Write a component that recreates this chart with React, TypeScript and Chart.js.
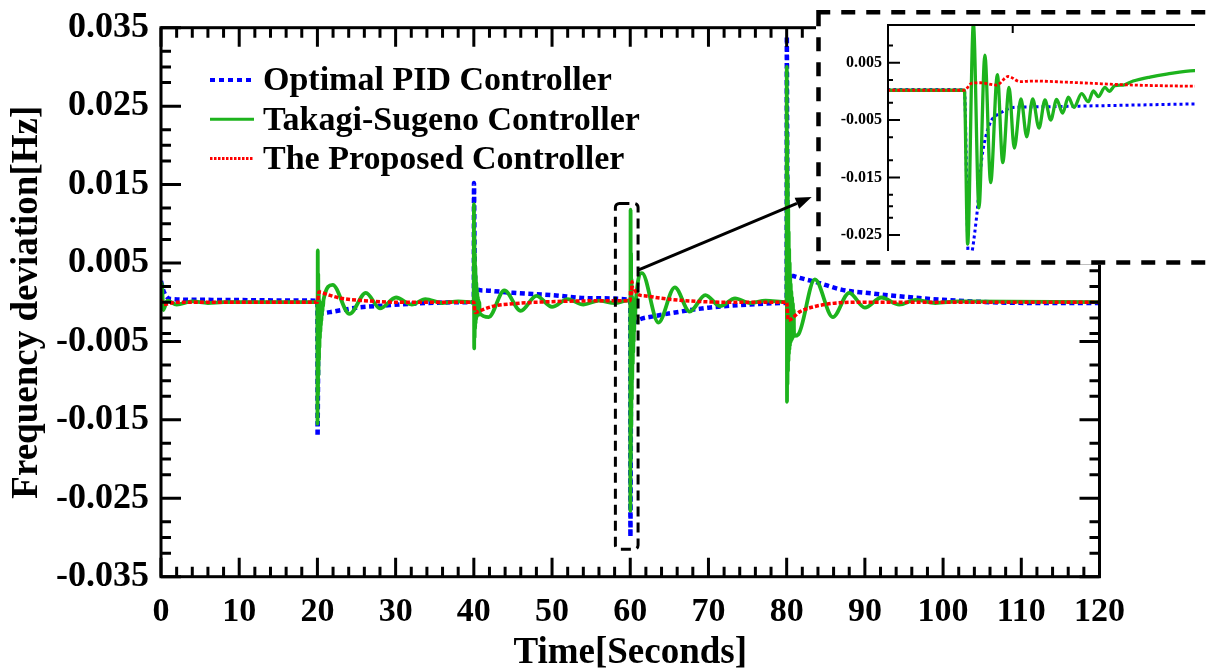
import React, { useEffect, useRef } from "react";
import { Chart, registerables } from "chart.js";

Chart.register(...registerables);

const FONT_FAMILY = '"Liberation Serif", "Times New Roman", Times, serif';

const seriesNames = ["Optimal PID Controller", "Takagi-Sugeno Controller", "The Proposed Controller"];
const seriesColors = ["#0000ff", "#1db31d", "#ff0000"];

const xTickLabels = [0, 10, 20, 30, 40, 50, 60, 70, 80, 90, 100, 110, 120];
const yTickLabels = ["-0.035", "-0.025", "-0.015", "-0.005", "0.005", "0.015", "0.025", "0.035"];
const yMinorTicks = [-0.032, -0.03, -0.028, -0.022, -0.02, -0.018, -0.012, -0.01, -0.008, -0.004, -0.002, 0,
  0.002, 0.004, 0.008, 0.01, 0.012, 0.018, 0.02, 0.022, 0.028, 0.03, 0.032];

const insetXRange = [59.6, 61.2];
const insetYRange = [-0.0278, 0.01156];
const insetYTickLabels = ["-0.025", "-0.015", "-0.005", "0.005"];
const insetYMinorTicks = [0.008, 0.002, -0.002, -0.008, -0.012, -0.018, -0.02, -0.022];
const insetTopTicks = [60.25];

const zoomBoxT = [58.1, 61.0];
const zoomBoxV = [-0.0315, 0.0126];
const arrowFrom = [61.0, 0.0041];
const arrowTo = [83.2, 0.0134];

// Optimal PID controller
const pidTime = [0, 0.3, 1.2, 5, 19.98, 20.0, 20.02, 20.06, 20.1, 20.15, 20.25, 20.75, 22, 25, 29, 34, 39.98,
  40.0, 40.02, 40.06, 40.1, 40.15, 40.25, 41.2, 45, 50, 55, 59.998,
  60.02, 60.062, 60.088, 60.114, 60.14, 60.184, 60.253, 60.356, 60.705, 61.195, 63, 66.4, 70, 75, 79.98,
  80.0, 80.02, 80.06, 80.1, 80.15, 80.3, 81, 84, 87, 91, 95, 100, 106, 112, 120];
const pidValues = [0.0027, 0.0015, 0.0004, 0.0003, 0.0002, 0.0002, -0.0171, -0.0125, -0.006, -0.003, -0.0017, -0.0014, -0.0012, -0.0007, -0.0004, -0.0001, 0.0,
  0.0, 0.0152, 0.011, 0.006, 0.003, 0.0018, 0.0015, 0.0012, 0.0009, 0.0005, 0.0003,
  -0.0299, -0.0218, -0.0119, -0.0073, -0.005, -0.0038, -0.0028, -0.0027, -0.0025, -0.0022, -0.0018, -0.0012, -0.0007, -0.0003, -0.0001,
  -0.0001, 0.0339, 0.022, 0.011, 0.0055, 0.0038, 0.0033, 0.0025, 0.0016, 0.0011, 0.0007, 0.0003, 0.0, -0.0001, -0.0001];

// Takagi-Sugeno controller
const tsTime = [0, 0.1, 0.3, 0.8, 2.0, 4.0, 6.0, 8.0, 19.98,
  20.015, 20.045, 20.075, 20.105, 20.135, 20.17, 20.2, 20.23, 20.26, 20.29, 20.32, 20.355, 20.39, 20.42, 20.45, 20.48, 20.51, 20.54, 20.57, 20.61, 20.65, 20.68, 20.72, 20.78,
  21.95, 24.1, 26.2, 28.0, 30.05, 32.06, 33.8, 36.0, 38.0, 39.98,
  40.015, 40.045, 40.075, 40.105, 40.135, 40.17, 40.2, 40.23, 40.26, 40.29, 40.32, 40.355, 40.39, 40.42, 40.45, 40.48, 40.52, 40.56, 40.6, 40.65, 40.7, 40.75,
  41.9, 43.9, 46.0, 48.0, 50.0, 52.0, 54.0, 56.0, 58.0, 59.6, 59.998,
  60.015, 60.045, 60.074, 60.105, 60.135, 60.17, 60.198, 60.231, 60.258, 60.293, 60.323, 60.354, 60.387, 60.418, 60.448, 60.479, 60.51, 60.54, 60.569, 60.609, 60.644, 60.67, 60.696, 60.731, 60.753, 60.783, 60.826, 60.878, 60.965, 61.052, 61.196,
  61.5, 63.6, 65.7, 67.6, 69.6, 71.5, 73.4, 75.3, 77.3, 79.98,
  80.015, 80.045, 80.075, 80.105, 80.135, 80.17, 80.2, 80.23, 80.26, 80.29, 80.32, 80.355, 80.39, 80.42, 80.45, 80.48, 80.52, 80.56, 80.6, 80.65, 80.7, 80.75, 80.8, 80.85, 80.9, 80.95,
  81.5, 83.6, 85.9, 88.0, 90.0, 92.1, 94.4, 96.5, 99.0, 102.0, 120.0];
const tsValues = [0.0, 0.0024, -0.001, 0.0002, -0.0003, 0.0001, -0.0001, 0.0, 0.0,
  -0.0155, 0.0066, -0.0118, 0.0036, -0.0093, 0.0016, -0.0074, 0.0003, -0.0058, -0.0008, -0.0046, -0.001, -0.0038, -0.001, -0.003, -0.0008, -0.0024, -0.0005, -0.0017, -0.0002, -0.0011, 0.0, -0.0006, 0.0003,
  0.0022, -0.0015, 0.0012, -0.0008, 0.0006, -0.0003, 0.0004, -0.0001, 0.0001, 0.0,
  0.0125, -0.0059, 0.0085, -0.0045, 0.0062, -0.0034, 0.0046, -0.0027, 0.0034, -0.0022, 0.0025, -0.0019, 0.0018, -0.0017, 0.0012, -0.0016, 0.0007, -0.0016, 0.0003, -0.0016, 0.0, -0.0014,
  -0.0019, 0.0015, -0.0011, 0.0008, -0.0006, 0.0004, -0.0003, 0.0002, -0.0001, 0.0002, 0.0002,
  -0.0266, 0.0118, -0.0203, 0.0063, -0.0159, 0.0029, -0.0124, 0.0007, -0.0099, -0.0013, -0.0079, -0.0013, -0.0064, -0.0015, -0.005, -0.0014, -0.0038, -0.001, -0.0028, -0.0004, -0.0018, 0.0001, -0.0009, 0.0007, 0.0, 0.001, 0.0011, 0.0018, 0.0025, 0.003, 0.0036,
  0.0037, -0.0026, 0.0019, -0.0012, 0.0009, -0.0005, 0.0005, -0.0001, 0.0002, 0.0,
  0.03, -0.0127, 0.0215, -0.0105, 0.016, -0.0088, 0.012, -0.0075, 0.009, -0.0066, 0.0068, -0.006, 0.005, -0.0056, 0.0036, -0.0052, 0.0024, -0.005, 0.0014, -0.0048, 0.0006, -0.0046, -0.0002, -0.0044, -0.001, -0.0043,
  -0.0041, 0.0029, -0.0019, 0.0012, -0.0007, 0.0006, -0.0003, 0.0003, -0.0001, 0.0001, 0.0];

// The proposed controller
const propTime = [0, 0.3, 2, 19.98, 20.0, 20.2, 21.5, 23, 26, 30, 39.98,
  40.0, 40.15, 41, 42.5, 45, 48, 59.6, 59.998,
  60.036, 60.079, 60.166, 60.227, 60.288, 60.357, 60.531, 60.878, 61.196, 62, 64, 67, 72, 79.98,
  80.0, 80.2, 81.7, 83.4, 86.4, 90, 120];
const propValues = [0.0003, -0.0003, 0.0, 0.0, 0.0, 0.0013, 0.0009, 0.0005, 0.0002, 0.0, 0.0,
  0.0, -0.0013, -0.001, -0.0005, -0.0002, 0.0, 0.0002, 0.0002,
  0.0014, 0.0015, 0.0011, 0.0026, 0.0017, 0.0018, 0.0016, 0.0011, 0.0009, 0.0008, 0.0005, 0.0002, 0.0, 0.0,
  0.0, -0.0023, -0.0012, -0.0006, -0.0001, 0.0, 0.0];

const toXY = (t: number[], v: number[]) => t.map((x, i) => ({ x, y: v[i] }));

function makeDatasets(widths: number[], dashes: number[][]) {
  return [
    {
      label: seriesNames[2], data: toXY(propTime, propValues), borderColor: seriesColors[2],
      borderWidth: widths[2], borderDash: dashes[2], order: 1,
    },
    {
      label: seriesNames[1], data: toXY(tsTime, tsValues), borderColor: seriesColors[1],
      borderWidth: widths[1], borderDash: dashes[1], order: 2,
    },
    {
      label: seriesNames[0], data: toXY(pidTime, pidValues), borderColor: seriesColors[0],
      borderWidth: widths[0], borderDash: dashes[0], order: 3,
    },
  ].map((d) => ({
    ...d, fill: false, pointRadius: 0, cubicInterpolationMode: "monotone" as const,
    borderJoinStyle: "round" as const, borderCapStyle: "butt" as const,
  }));
}

const mainPlugin = {
  id: "mainDecor",
  afterDraw(chart: any) {
    const { ctx, chartArea: a } = chart;
    const xs = chart.scales.x;
    const ys = chart.scales.y;
    ctx.save();
    ctx.strokeStyle = "#000";
    ctx.lineCap = "butt";
    ctx.lineWidth = 3;
    // ticks on all four sides (pointing inward)
    ctx.beginPath();
    for (let v = 0; v <= 120; v += 2) {
      const p = xs.getPixelForValue(v);
      const len = xTickLabels.includes(v) ? 19 : 10;
      ctx.moveTo(p, a.bottom); ctx.lineTo(p, a.bottom - len);
      ctx.moveTo(p, a.top); ctx.lineTo(p, a.top + len);
    }
    const yMaj = yTickLabels.map((s) => parseFloat(s));
    yMaj.forEach((v) => {
      const p = ys.getPixelForValue(v);
      ctx.moveTo(a.left, p); ctx.lineTo(a.left + 20, p);
      ctx.moveTo(a.right, p); ctx.lineTo(a.right - 20, p);
    });
    yMinorTicks.forEach((v) => {
      const p = ys.getPixelForValue(v);
      ctx.moveTo(a.left, p); ctx.lineTo(a.left + 10, p);
      ctx.moveTo(a.right, p); ctx.lineTo(a.right - 10, p);
    });
    ctx.stroke();
    ctx.strokeRect(a.left, a.top, a.right - a.left, a.bottom - a.top);

    // zoom box around t = 60
    const bx0 = xs.getPixelForValue(zoomBoxT[0]);
    const bx1 = xs.getPixelForValue(zoomBoxT[1]);
    const by0 = ys.getPixelForValue(zoomBoxV[1]);
    const by1 = ys.getPixelForValue(zoomBoxV[0]);
    ctx.setLineDash([10, 6]);
    ctx.lineWidth = 3;
    ctx.beginPath();
    const r = 4;
    ctx.moveTo(bx0 + r, by0);
    ctx.lineTo(bx1 - r, by0);
    ctx.arcTo(bx1, by0, bx1, by0 + r, r);
    ctx.lineTo(bx1, by1 - r);
    ctx.arcTo(bx1, by1, bx1 - r, by1, r);
    ctx.lineTo(bx0 + r, by1);
    ctx.arcTo(bx0, by1, bx0, by1 - r, r);
    ctx.lineTo(bx0, by0 + r);
    ctx.arcTo(bx0, by0, bx0 + r, by0, r);
    ctx.stroke();
    ctx.setLineDash([]);

    // arrow
    const ax0 = xs.getPixelForValue(arrowFrom[0]);
    const ay0 = ys.getPixelForValue(arrowFrom[1]);
    const ax1 = xs.getPixelForValue(arrowTo[0]);
    const ay1 = ys.getPixelForValue(arrowTo[1]);
    const ang = Math.atan2(ay1 - ay0, ax1 - ax0);
    const hl = 16, hw = 6;
    const bxh = ax1 - hl * Math.cos(ang), byh = ay1 - hl * Math.sin(ang);
    ctx.lineWidth = 3;
    ctx.beginPath();
    ctx.moveTo(ax0, ay0);
    ctx.lineTo(bxh, byh);
    ctx.stroke();
    ctx.fillStyle = "#000";
    ctx.beginPath();
    ctx.moveTo(ax1, ay1);
    ctx.lineTo(bxh + hw * Math.sin(ang), byh - hw * Math.cos(ang));
    ctx.lineTo(bxh - hw * Math.sin(ang), byh + hw * Math.cos(ang));
    ctx.closePath();
    ctx.fill();

    // legend
    const legendStyles = [
      { w: 4, dash: [5, 4] },
      { w: 3, dash: [] },
      { w: 3, dash: [2.5, 1.5] },
    ];
    const rowY = [52.3, 91.5, 130.8];
    const baseOff = [10, 10.5, 10.5];
    ctx.font = `bold 34px ${FONT_FAMILY}`;
    ctx.textAlign = "left";
    ctx.textBaseline = "alphabetic";
    seriesNames.forEach((name, i) => {
      const y = a.top + rowY[i];
      ctx.strokeStyle = seriesColors[i];
      ctx.lineWidth = legendStyles[i].w;
      ctx.setLineDash(legendStyles[i].dash);
      ctx.beginPath();
      ctx.moveTo(a.left + 49, y);
      ctx.lineTo(a.left + 93, y);
      ctx.stroke();
      ctx.setLineDash([]);
      ctx.fillStyle = "#000";
      ctx.fillText(name, a.left + 102, y + baseOff[i]);
    });
    ctx.restore();
  },
};

const insetPlugin = {
  id: "insetDecor",
  beforeDraw(chart: any) {
    const { ctx, width } = chart;
    ctx.save();
    ctx.fillStyle = "#fff";
    ctx.fillRect(0, 0, width, 256.5);
    ctx.restore();
  },
  afterDraw(chart: any) {
    const { ctx, chartArea: a, width } = chart;
    const xs = chart.scales.x;
    const ys = chart.scales.y;
    ctx.save();
    ctx.strokeStyle = "#000";
    ctx.lineWidth = 2;
    ctx.beginPath();
    ctx.moveTo(a.left, a.bottom);
    ctx.lineTo(a.left, a.top);
    ctx.lineTo(a.right, a.top);
    insetYTickLabels.forEach((s) => {
      const p = ys.getPixelForValue(parseFloat(s));
      ctx.moveTo(a.left, p); ctx.lineTo(a.left + 12, p);
    });
    insetYMinorTicks.forEach((v) => {
      const p = ys.getPixelForValue(v);
      ctx.moveTo(a.left, p); ctx.lineTo(a.left + 5, p);
    });
    insetTopTicks.forEach((v) => {
      const p = xs.getPixelForValue(v);
      ctx.moveTo(p, a.top); ctx.lineTo(p, a.top + 8);
    });
    ctx.stroke();

    // dashed border
    const L = 2.5, T = 4.3, B = 254.5, R = width + 20;
    ctx.lineWidth = 4.5;
    ctx.setLineDash([14, 11]);
    ctx.beginPath();
    ctx.moveTo(L - 2.25, T); ctx.lineTo(R, T);
    ctx.moveTo(L, T); ctx.lineTo(L, B);
    ctx.moveTo(L - 2.25, B); ctx.lineTo(R, B);
    ctx.stroke();
    ctx.restore();
  },
};

function mainConfig(): any {
  return {
    type: "line",
    data: { datasets: makeDatasets([4.5, 3.8, 3.5], [[5, 3.5], [], [4, 2]]) },
    options: {
      responsive: false,
      animation: false,
      events: [],
      layout: { padding: { top: 27.7, right: 111.5, left: 0, bottom: 0 } },
      plugins: { legend: { display: false }, tooltip: { enabled: false } },
      scales: {
        x: {
          type: "linear", min: 0, max: 120,
          grid: { display: false, drawTicks: false }, border: { display: false },
          afterBuildTicks: (s: any) => { s.ticks = xTickLabels.map((v) => ({ value: v })); },
          afterFit: (s: any) => { s.height = 93.3; s.paddingLeft = 0; s.paddingRight = 0; },
          ticks: {
            color: "#000", padding: 15, maxRotation: 0, autoSkip: false,
            font: { family: FONT_FAMILY, size: 34, weight: "bold" },
            callback: (v: any, i: number) => String(xTickLabels[i]),
          },
          title: {
            display: true, text: "Time[Seconds]", color: "#000",
            font: { family: FONT_FAMILY, size: 37, weight: "bold", lineHeight: 0.9 },
            padding: { top: 0, bottom: 0 },
          },
        },
        y: {
          type: "linear", min: -0.035, max: 0.035,
          grid: { display: false, drawTicks: false }, border: { display: false },
          afterBuildTicks: (s: any) => { s.ticks = yTickLabels.map((l) => ({ value: parseFloat(l) })); },
          afterFit: (s: any) => { s.width = 161; s.paddingTop = 0; s.paddingBottom = 0; },
          ticks: {
            color: "#000", padding: 12, autoSkip: false,
            font: { family: FONT_FAMILY, size: 36, weight: "bold" },
            callback: (v: any, i: number) => yTickLabels[i],
          },
          title: {
            display: true, text: "Frequency deviation[Hz]", color: "#000",
            font: { family: FONT_FAMILY, size: 37, weight: "bold", lineHeight: 1 },
            padding: { top: 9, bottom: 0 },
          },
        },
      },
    },
    plugins: [mainPlugin],
  };
}

function insetConfig(): any {
  return {
    type: "line",
    data: { datasets: makeDatasets([3, 3.3, 2.8], [[3, 3], [], [3, 2]]) },
    options: {
      responsive: false,
      animation: false,
      events: [],
      layout: { padding: { top: 17, right: 16, left: 0, bottom: 0 } },
      plugins: { legend: { display: false }, tooltip: { enabled: false } },
      scales: {
        x: {
          type: "linear", min: insetXRange[0], max: insetXRange[1],
          grid: { display: false, drawTicks: false }, border: { display: false },
          ticks: { display: false },
          afterFit: (s: any) => { s.height = 15; s.paddingLeft = 0; s.paddingRight = 0; },
        },
        y: {
          type: "linear", min: insetYRange[0], max: insetYRange[1],
          grid: { display: false, drawTicks: false }, border: { display: false },
          afterBuildTicks: (s: any) => { s.ticks = insetYTickLabels.map((l) => ({ value: parseFloat(l) })); },
          afterFit: (s: any) => { s.width = 72; s.paddingTop = 0; s.paddingBottom = 0; },
          ticks: {
            color: "#000", padding: 6, autoSkip: false,
            font: { family: FONT_FAMILY, size: 16, weight: "bold" },
            callback: (v: any, i: number) => insetYTickLabels[i],
          },
        },
      },
    },
    plugins: [insetPlugin],
  };
}

export default function App() {
  const mainRef = useRef<HTMLCanvasElement>(null);
  const insetRef = useRef<HTMLCanvasElement>(null);
  useEffect(() => {
    document.body.style.margin = "0";
    const main = new Chart(mainRef.current as HTMLCanvasElement, mainConfig());
    const inset = new Chart(insetRef.current as HTMLCanvasElement, insetConfig());
    return () => {
      main.destroy();
      inset.destroy();
    };
  }, []);
  return (
    <div style={{ position: "relative", width: 1211, height: 670, background: "#fff", overflow: "hidden" }}>
      <canvas ref={mainRef} width={1211} height={670} style={{ position: "absolute", left: 0, top: 0 }} />
      <canvas ref={insetRef} width={395} height={258} style={{ position: "absolute", left: 816, top: 8 }} />
    </div>
  );
}
